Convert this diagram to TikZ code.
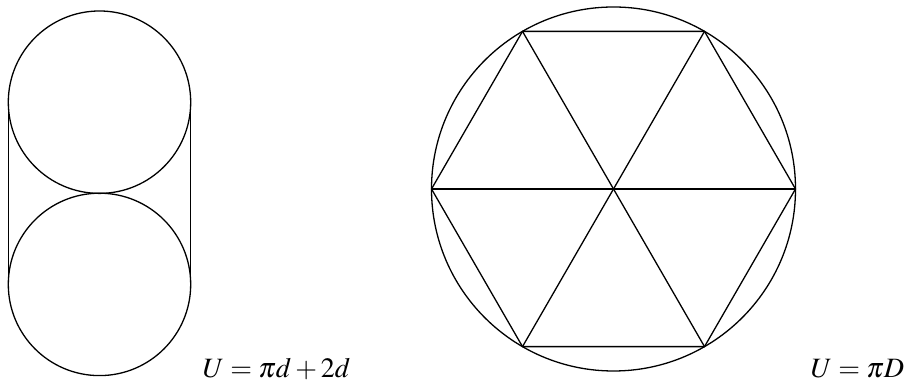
\documentclass[tikz,border=0pt]{standalone}
\usepackage{mathptmx}
\usepackage{tikz}
\usetikzlibrary{calc}

\begin{document}
\begin{tikzpicture}[x=0.5pt, y=-0.5pt, line width=0.65pt]
    % Define sizes
    \def\smallRadius{91.2}
    \def\bigRadius{182}

    % Fix the canvas
    \useasboundingbox (0,0) rectangle (904,383);

    % Centres of the circles
    \coordinate (topCentre) at (99.5,102.2);
    \coordinate (bottomCentre) at (99.5,284.4);
    \coordinate (hexCentre) at (613.5,189);

    % Draw the two stacked circles
    \draw (topCentre) circle[radius=\smallRadius];
    \draw (bottomCentre) circle[radius=\smallRadius];

    % Draw the sides
    \draw ([xshift=-\smallRadius*0.5pt]topCentre) -- ([xshift=-\smallRadius*0.5pt]bottomCentre);
    \draw ([xshift=\smallRadius*0.5pt]topCentre) -- ([xshift=\smallRadius*0.5pt]bottomCentre);

    % Draw the big circle
    \draw (hexCentre) circle[radius=\bigRadius];

    % Define the vertices of the hexagon
    \foreach \i in {0,...,5}
        \coordinate (V\i) at ($(hexCentre)+(\i*60:\bigRadius)$);

    % Draw the hexagon and its diagonals
    \draw (V0) -- (V1) -- (V2) -- (V3) -- (V4) -- (V5) -- cycle;
    \draw (V0) -- (V3);
    \draw (V1) -- (V4);
    \draw (V2) -- (V5);

    % Label the perimeters
    \node[anchor=base west, inner sep=0pt, font=\fontsize{14}{16}\selectfont] (leftLabel) at (202,378) {$U = \pi d + 2d$};
    \node[anchor=base west, inner sep=0pt, font=\fontsize{14}{16}\selectfont] (rightLabel) at (810,378) {$U = \pi D$};

\end{tikzpicture}
\end{document}
